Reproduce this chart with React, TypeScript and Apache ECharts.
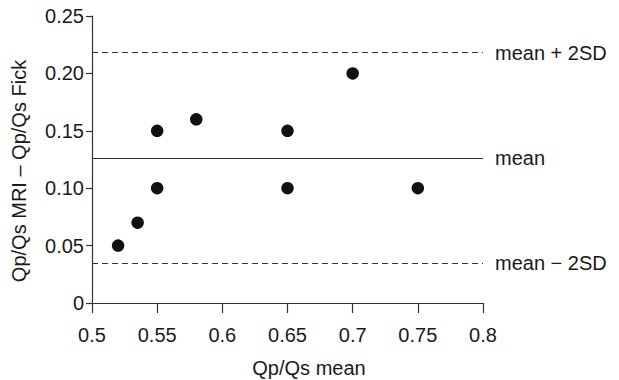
import React, { useEffect, useRef } from 'react';
import * as echarts from 'echarts';

// Data
const xValues = [0.52, 0.535, 0.55, 0.55, 0.58, 0.65, 0.65, 0.7, 0.75];
const yValues = [0.05, 0.07, 0.1, 0.15, 0.16, 0.15, 0.1, 0.2, 0.1];
const xTickLabels = ['0.5', '0.55', '0.6', '0.65', '0.7', '0.75', '0.8'];
const yTickLabels = ['0', '0.05', '0.10', '0.15', '0.20', '0.25'];
const meanValue = 0.126;
const upperLimit = 0.218;
const lowerLimit = 0.035;
const refLabels = ['mean + 2SD', 'mean', 'mean \u2212 2SD'];
const xAxisTitle = 'Qp/Qs mean';
const yAxisTitle = 'Qp/Qs MRI \u2013 Qp/Qs Fick';

const FONT = '"Liberation Sans", Arial, Helvetica, sans-serif';
const TEXT = '#1a1a1a';
const AXIS = '#333';

export default function App() {
  const ref = useRef<HTMLDivElement>(null);
  useEffect(() => {
    if (!ref.current) return;
    const chart = echarts.init(ref.current, undefined, { renderer: 'svg' });
    const points = xValues.map((x, i) => [x, yValues[i]]);
    chart.setOption({
      animation: false,
      backgroundColor: '#fff',
      grid: { left: 92, right: 136, top: 16, bottom: 77, containLabel: false },
      xAxis: {
        type: 'value',
        min: 0.5,
        max: 0.8,
        interval: 0.05,
        splitLine: { show: false },
        axisLine: { show: true, lineStyle: { color: AXIS, width: 1.2 } },
        axisTick: { show: true, length: 10, lineStyle: { color: AXIS, width: 1.2 } },
        axisLabel: {
          margin: 22,
          color: TEXT,
          fontSize: 20,
          fontFamily: FONT,
          formatter: (v: number) => xTickLabels[Math.round((v - 0.5) / 0.05)] ?? '',
        },
      },
      yAxis: {
        type: 'value',
        min: 0,
        max: 0.25,
        interval: 0.05,
        splitLine: { show: false },
        axisLine: { show: true, lineStyle: { color: AXIS, width: 1.2 } },
        axisTick: { show: true, length: 6, lineStyle: { color: AXIS, width: 1.2 } },
        axisLabel: {
          margin: 8,
          color: TEXT,
          fontSize: 20,
          fontFamily: FONT,
          formatter: (v: number) => yTickLabels[Math.round(v / 0.05)] ?? '',
        },
      },
      graphic: [
        {
          type: 'text',
          x: 18.5,
          y: 171,
          rotation: Math.PI / 2,
          style: {
            text: yAxisTitle,
            font: `20px ${FONT}`,
            fill: TEXT,
            align: 'center',
            verticalAlign: 'middle',
            textAlign: 'center',
            textVerticalAlign: 'middle',
          },
        },
        {
          type: 'text',
          x: 309,
          y: 368,
          style: {
            text: xAxisTitle,
            font: `20px ${FONT}`,
            fill: TEXT,
            align: 'center',
            verticalAlign: 'middle',
            textAlign: 'center',
            textVerticalAlign: 'middle',
          },
        },
      ],
      series: [
        {
          type: 'scatter',
          data: points,
          symbol: 'circle',
          symbolSize: 12.5,
          itemStyle: { color: '#111', opacity: 1 },
          silent: true,
          markLine: {
            silent: true,
            precision: 4,
            symbol: ['none', 'none'],
            label: {
              show: true,
              position: 'end',
              distance: 12,
              color: TEXT,
              fontSize: 20,
              fontFamily: FONT,
            },
            data: [
              { yAxis: upperLimit, lineStyle: { type: [6, 4], color: AXIS, width: 1 }, label: { formatter: refLabels[0] } },
              { yAxis: meanValue, lineStyle: { type: 'solid', color: AXIS, width: 1.2 }, label: { formatter: refLabels[1] } },
              { yAxis: lowerLimit, lineStyle: { type: [6, 4], color: AXIS, width: 1 }, label: { formatter: refLabels[2] } },
            ],
          },
        },
      ],
    });
    return () => chart.dispose();
  }, []);
  return (
    <div
      ref={ref}
      style={{ position: 'fixed', left: 0, top: 0, width: 619, height: 380, background: '#fff' }}
    />
  );
}
